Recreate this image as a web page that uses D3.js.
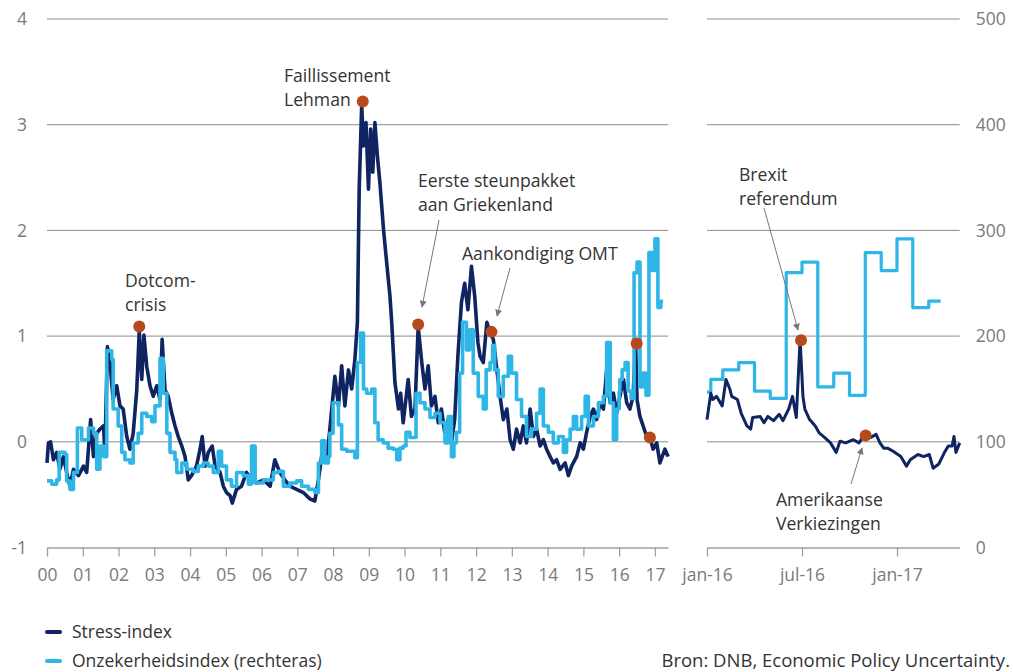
<!DOCTYPE html>
<html><head><meta charset="utf-8">
<script src="https://cdn.jsdelivr.net/npm/d3@7"></script>
<style>body{margin:0;background:#fff} text{font-family:"Open Sans",sans-serif}</style>
</head><body><svg id="c" width="1013" height="672"></svg>
<script>
// ---- DATA (decimal years) ----
const stressT = [2000.00,2000.04,2000.10,2000.18,2000.27,2000.36,2000.46,2000.55,2000.64,2000.74,2000.88,2001.02,2001.11,2001.22,2001.30,2001.39,2001.48,2001.58,2001.62,2001.69,2001.76,2001.85,2001.95,2002.04,2002.13,2002.23,2002.32,2002.41,2002.51,2002.58,2002.65,2002.71,2002.79,2002.88,2002.97,2003.07,2003.16,2003.22,2003.30,2003.39,2003.49,2003.58,2003.67,2003.77,2003.86,2003.95,2004.04,2004.18,2004.28,2004.34,2004.42,2004.51,2004.62,2004.70,2004.84,2004.93,2005.02,2005.12,2005.18,2005.30,2005.44,2005.58,2005.72,2005.86,2006.05,2006.24,2006.37,2006.51,2006.65,2006.79,2006.98,2007.17,2007.35,2007.49,2007.59,2007.68,2007.82,2007.91,2008.05,2008.15,2008.24,2008.33,2008.43,2008.52,2008.61,2008.68,2008.73,2008.80,2008.85,2008.92,2008.99,2009.05,2009.11,2009.17,2009.24,2009.31,2009.41,2009.50,2009.59,2009.64,2009.73,2009.83,2009.89,2009.96,2010.10,2010.19,2010.29,2010.38,2010.48,2010.57,2010.66,2010.75,2010.85,2010.94,2011.03,2011.12,2011.22,2011.31,2011.40,2011.49,2011.59,2011.68,2011.77,2011.87,2011.96,2012.05,2012.11,2012.20,2012.30,2012.39,2012.48,2012.58,2012.67,2012.76,2012.86,2012.95,2013.04,2013.13,2013.23,2013.32,2013.41,2013.51,2013.60,2013.69,2013.79,2013.88,2013.97,2014.07,2014.16,2014.25,2014.35,2014.49,2014.58,2014.67,2014.81,2014.91,2015.00,2015.09,2015.19,2015.28,2015.37,2015.47,2015.56,2015.65,2015.75,2015.84,2015.93,2016.02,2016.12,2016.21,2016.30,2016.39,2016.46,2016.50,2016.58,2016.67,2016.77,2016.86,2016.95,2017.05,2017.14,2017.28,2017.37];
const stressV = [-0.20,-0.01,0.00,-0.17,-0.10,-0.26,-0.14,-0.29,-0.42,-0.26,-0.32,-0.23,-0.29,0.21,-0.14,0.08,0.12,0.15,-0.10,0.90,0.75,0.40,0.53,0.34,0.31,0.05,-0.07,0.08,0.49,1.05,0.59,1.01,0.71,0.53,0.43,0.53,0.40,0.97,0.49,0.43,0.27,0.15,0.05,-0.04,-0.14,-0.36,-0.32,-0.23,-0.07,0.05,-0.23,-0.10,-0.04,-0.23,-0.29,-0.42,-0.48,-0.51,-0.58,-0.45,-0.42,-0.29,-0.36,-0.39,-0.36,-0.42,-0.17,-0.29,-0.36,-0.42,-0.45,-0.48,-0.54,-0.56,-0.36,-0.14,-0.17,0.12,0.62,0.34,0.72,0.34,0.68,0.50,0.78,1.13,2.39,3.18,2.80,3.02,2.39,2.96,2.55,3.02,2.70,2.45,2.01,1.69,1.38,1.13,0.56,0.31,0.46,0.18,0.59,0.24,0.31,1.09,0.75,0.50,0.72,0.34,0.43,0.18,0.31,0.09,0.21,-0.01,0.21,0.81,1.32,1.50,1.25,1.66,1.38,0.94,0.81,0.75,1.13,1.03,0.97,0.68,0.43,0.21,0.31,0.02,-0.07,0.12,-0.01,0.15,-0.01,0.31,0.05,0.12,-0.04,0.02,-0.07,-0.14,-0.20,-0.17,-0.26,-0.20,-0.32,-0.23,-0.14,-0.01,-0.07,0.09,0.24,0.31,0.21,0.37,0.31,0.68,0.37,0.46,0.27,0.43,0.59,0.37,0.31,0.43,0.94,0.40,0.24,0.15,0.05,0.04,-0.07,-0.01,-0.20,-0.07,-0.14];

// detailed stress index for the 2016-2017 panel
const stressZoomT = [2016.00,2016.02,2016.03,2016.05,2016.08,2016.10,2016.12,2016.13,2016.16,2016.18,2016.21,2016.23,2016.24,2016.28,2016.30,2016.32,2016.35,2016.38,2016.40,2016.43,2016.45,2016.47,2016.49,2016.505,2016.515,2016.54,2016.57,2016.59,2016.62,2016.65,2016.68,2016.70,2016.73,2016.77,2016.80,2016.83,2016.86,2016.89,2016.91,2016.93,2016.95,2016.98,2017.02,2017.05,2017.07,2017.11,2017.14,2017.17,2017.19,2017.22,2017.25,2017.27,2017.29,2017.30,2017.31,2017.33];
const stressZoomV = [0.21,0.46,0.40,0.43,0.34,0.59,0.50,0.43,0.40,0.27,0.15,0.12,0.23,0.24,0.18,0.24,0.20,0.26,0.20,0.31,0.43,0.23,0.97,0.43,0.31,0.21,0.15,0.085,0.04,-0.01,-0.10,0.006,-0.01,0.02,-0.01,0.07,0.04,0.07,-0.01,-0.06,-0.06,-0.09,-0.14,-0.23,-0.17,-0.12,-0.14,-0.12,-0.25,-0.21,-0.10,-0.04,-0.04,0.05,-0.10,-0.01];

// uncertainty index (right axis)
const uncT = [2000.00,2000.13,2000.27,2000.34,2000.50,2000.55,2000.64,2000.74,2000.85,2000.97,2001.16,2001.30,2001.39,2001.48,2001.58,2001.67,2001.81,2001.85,2001.99,2002.09,2002.18,2002.32,2002.41,2002.55,2002.65,2002.79,2002.93,2003.02,2003.16,2003.25,2003.35,2003.44,2003.58,2003.63,2003.77,2003.91,2004.09,2004.23,2004.37,2004.51,2004.65,2004.79,2004.88,2005.02,2005.16,2005.30,2005.49,2005.63,2005.72,2005.82,2006.05,2006.24,2006.33,2006.47,2006.61,2006.79,2006.98,2007.12,2007.31,2007.49,2007.59,2007.68,2007.77,2007.87,2007.91,2008.00,2008.15,2008.24,2008.38,2008.61,2008.68,2008.77,2008.85,2008.94,2009.08,2009.17,2009.26,2009.40,2009.54,2009.68,2009.78,2009.87,2009.96,2010.04,2010.15,2010.32,2010.43,2010.57,2010.71,2010.85,2010.99,2011.13,2011.22,2011.31,2011.38,2011.45,2011.54,2011.62,2011.73,2011.82,2011.92,2012.06,2012.20,2012.28,2012.39,2012.46,2012.52,2012.62,2012.76,2012.90,2012.99,2013.13,2013.27,2013.41,2013.55,2013.69,2013.79,2013.88,2014.02,2014.16,2014.30,2014.44,2014.53,2014.63,2014.72,2014.81,2014.95,2015.05,2015.14,2015.28,2015.42,2015.56,2015.65,2015.75,2015.84,2015.93,2016.00,2016.02,2016.083,2016.167,2016.25,2016.333,2016.417,2016.50,2016.583,2016.667,2016.75,2016.833,2016.917,2017.00,2017.083,2017.167,2017.23];
const uncV = [63,60,64,90,88,63,55,71,113,102,113,108,74,96,86,186,178,131,115,90,83,80,99,108,127,124,119,134,179,146,108,90,83,71,80,74,72,77,80,77,71,91,77,64,58,71,68,60,96,61,64,64,71,72,58,61,63,58,55,52,80,101,80,86,108,137,116,93,91,85,175,203,150,146,150,118,102,99,94,93,83,94,96,109,104,146,137,131,123,127,118,99,124,86,99,109,165,213,187,206,165,143,131,168,175,191,168,143,162,181,165,140,124,105,112,127,150,115,109,99,105,90,102,112,124,112,124,143,115,124,137,143,194,137,102,131,147,159,168,175,148,141,260,270,152,165,144,279,262,292,227,233,233];

// events
const eventLabels = [["Dotcom-","crisis"],["Faillissement","Lehman"],["Eerste steunpakket","aan Griekenland"],["Aankondiging OMT"],["",""],["",""],["Brexit","referendum"],["Amerikaanse","Verkiezingen"]];
const eventT = [2002.58,2008.83,2010.38,2012.43,2016.49,2016.86,2016.495,2016.835];
const eventV = [1.09,3.22,1.11,1.04,0.93,0.04,0.96,0.06];
const eventPanel = ["L","L","L","L","L","L","R","R"];

const leftTicks = [-1,0,1,2,3,4];
const rightTicks = [0,100,200,300,400,500];
const yearTicks = d3.range(2000,2018);
const zoomTicks = [2016,2016.5,2017];
const zoomTickLabels = ["jan-16","jul-16","jan-17"];

// ---- CHART ----
const NAVY="#0f2461", BLUE="#2eb6e6", DOT="#b8491c", GRID="#8c8c8c", TXT="#7a7a7a", DARK="#333";
const svg = d3.select("#c");
const yTop=19, yBot=547.5;
const yL = d3.scaleLinear().domain([-1,4]).range([yBot,yTop]);
const yR = d3.scaleLinear().domain([0,500]).range([yBot,yTop]);
const xL = d3.scaleLinear().domain([2000,2017.37]).range([47,47+17.37*35.76]);
const xR = d3.scaleLinear().domain([2016,2017.33]).range([707,707+1.33*190]);

const defs = svg.append("defs");
defs.append("marker").attr("id","arr").attr("viewBox","0 0 10 10").attr("refX",9).attr("refY",5)
  .attr("markerWidth",7).attr("markerHeight",7).attr("orient","auto-start-reverse")
  .append("path").attr("d","M0,0L10,5L0,10z").attr("fill","#777");

// gridlines
[[xL,yL,[0,1,2,3,4]],[xR,yR,[100,200,300,400,500]]].forEach(([x,y,vals])=>{
  svg.append("g").selectAll("line").data(vals).join("line")
    .attr("x1",x.range()[0]).attr("x2",x.range()[1])
    .attr("y1",d=>y(d)).attr("y2",d=>y(d)).attr("stroke",GRID).attr("stroke-width",1);
});

// x axes
function styleAxis(g){
  g.select(".domain").attr("stroke","#a0a0a0").attr("stroke-width",1.3);
  g.selectAll(".tick line").attr("stroke","#a0a0a0").attr("stroke-width",1.3);
  g.selectAll(".tick text").attr("fill",TXT).style("font-size","17.5px").style("font-family","'Open Sans',sans-serif");
}
svg.append("g").attr("transform",`translate(0,${yBot})`)
  .call(d3.axisBottom(xL).tickValues(yearTicks).tickFormat(d=>String(d%100).padStart(2,"0")).tickSize(9).tickSizeOuter(0).tickPadding(12))
  .call(styleAxis);
svg.append("g").attr("transform",`translate(0,${yBot})`)
  .call(d3.axisBottom(xR).tickValues(zoomTicks).tickFormat((d,i)=>zoomTickLabels[i]).tickSize(9).tickSizeOuter(0).tickPadding(12))
  .call(styleAxis);

// y axes
svg.append("g").attr("transform","translate(47,0)")
  .call(d3.axisLeft(yL).tickValues(leftTicks).tickFormat(d=>String(d)).tickSize(0).tickPadding(20))
  .call(g=>{g.select(".domain").remove(); g.selectAll("text").attr("fill",TXT).style("font-size","17.5px");});
svg.append("g").attr("transform",`translate(${xR.range()[1]},0)`)
  .call(d3.axisRight(yR).tickValues(rightTicks).tickFormat(d=>String(d)).tickSize(0).tickPadding(16))
  .call(g=>{g.select(".domain").remove(); g.selectAll("text").attr("fill",TXT).style("font-size","17.5px");});

// lines
const stress = stressT.map((t,i)=>({t,v:stressV[i]}));
const stressZ = stressZoomT.map((t,i)=>({t,v:stressZoomV[i]}));
const unc = uncT.map((t,i)=>({t,v:uncV[i]}));

const lineS = x => d3.line().x(d=>x(d.t)).y(d=>yL(d.v));
const lineU = x => d3.line().curve(d3.curveStepAfter).x(d=>x(d.t)).y(d=>yR(d.v));

svg.append("path").datum(stress).attr("d",lineS(xL)).attr("fill","none").attr("stroke",NAVY).attr("stroke-width",3.6).attr("stroke-linejoin","round");
svg.append("path").datum(unc).attr("d",lineU(xL)).attr("fill","none").attr("stroke",BLUE).attr("stroke-width",3.6).attr("stroke-linejoin","round");

svg.append("path").datum(unc.filter(d=>d.t>=2016)).attr("d",lineU(xR)).attr("fill","none").attr("stroke",BLUE).attr("stroke-width",3.2).attr("stroke-linejoin","round");
svg.append("path").datum(stressZ).attr("d",lineS(xR)).attr("fill","none").attr("stroke",NAVY).attr("stroke-width",3).attr("stroke-linejoin","round");

// event dots
svg.append("g").selectAll("circle").data(eventT).join("circle")
  .attr("cx",(d,i)=>(eventPanel[i]==="L"?xL:xR)(d)).attr("cy",(d,i)=>yL(eventV[i]))
  .attr("r",6).attr("fill",DOT);

// annotations
const ann = [
  {i:0,x:125,y:287},{i:1,x:284,y:82},{i:2,x:418,y:187},{i:3,x:462,y:260},
  {i:6,x:739,y:181},{i:7,x:776,y:506}
];
ann.forEach(a=>{
  eventLabels[a.i].forEach((s,k)=>svg.append("text").attr("x",a.x).attr("y",a.y+k*24).attr("fill",DARK).style("font-size","17.6px").text(s));
});
const arrows = [[439,220,422,307],[510,268,497,316],[764,208,798,330],[851,484,862,448]];
svg.append("g").selectAll("line").data(arrows).join("line")
  .attr("x1",d=>d[0]).attr("y1",d=>d[1]).attr("x2",d=>d[2]).attr("y2",d=>d[3])
  .attr("stroke","#777").attr("stroke-width",1).attr("marker-end","url(#arr)");

// legend
const leg = [["Stress-index",NAVY],["Onzekerheidsindex (rechteras)",BLUE]];
leg.forEach((l,i)=>{
  const y = 632 + i*29;
  svg.append("line").attr("x1",47).attr("x2",60).attr("y1",y).attr("y2",y).attr("stroke",l[1]).attr("stroke-width",4).attr("stroke-linecap","round");
  svg.append("text").attr("x",72).attr("y",y+6).attr("fill",DARK).style("font-size","17.5px").text(l[0]);
});
svg.append("text").attr("x",1010).attr("y",667).attr("text-anchor","end").attr("fill",DARK).style("font-size","18.5px").text("Bron: DNB, Economic Policy Uncertainty.");
</script></body></html>
